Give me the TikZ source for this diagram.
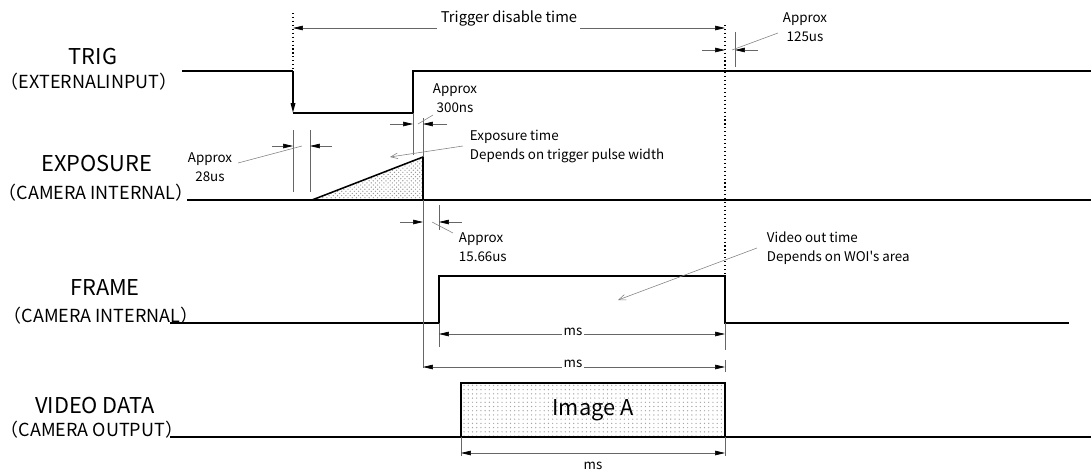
\documentclass[tikz,border=0pt]{standalone}
\usepackage{fontspec}
\newfontfamily\jpfont{Noto Sans CJK JP}
\usetikzlibrary{arrows.meta,patterns}
\begin{document}
\begin{tikzpicture}[x=0.025cm,y=-0.025cm,>={Triangle[length=7pt,width=3.2pt,color=black]},
sig/.style={line width=1.1pt},
dim/.style={gray!80!black,line width=0.4pt},
lead/.style={gray,line width=0.4pt},
lbl/.style={font=\jpfont\fontsize{15.5}{17}\selectfont},
sublbl/.style={font=\jpfont\fontsize{12.8}{15}\selectfont,inner sep=0pt},
note/.style={font=\jpfont\fontsize{9.5}{13.5}\selectfont,align=left}]
\useasboundingbox(0,0)rectangle(1091,474);
% signal names
\node[lbl](trig)at(93,57){TRIG};
\node[sublbl](trigsub)at(89,82){（EXTERNALINPUT）};
\node[lbl](expo)at(97,164){EXPOSURE};
\node[sublbl](exposub)at(96,193){（CAMERA INTERNAL）};
\node[lbl](frame)at(105,288){FRAME};
\node[sublbl](framesub)at(101,316){（CAMERA INTERNAL）};
\node[lbl](video)at(95,406){VIDEO DATA};
\node[sublbl](videosub)at(92,430){（CAMERA OUTPUT）};
% waveforms
\draw[sig](182,71)--(293,71);
\draw[sig,->](293,71)--(293,113);
\draw[sig](293,113)--(413,113)--(413,71)--(1091,71);
\draw[sig](187,200)--(1091,200);
\draw[sig,pattern=crosshatch dots,pattern color=gray!80](312,200)--(423,157)--(423,200)--cycle;
\draw[sig](170,323)--(439,323)--(439,276)--(725,276)--(725,323)--(1069,323);
\draw[sig](170,437)--(1091,437);
\draw[sig,pattern=dots,pattern color=gray!70](461,383)rectangle(725,437);
\node[font=\jpfont\fontsize{15.5}{17}\selectfont](imga)at(593,410){Image A};
% trigger disable time
\draw[thick,dotted](293,13)--(293,71);
\draw[thick,dotted](725,25)--(725,276);
\draw[dim,<-](293,28)--(437,28);
\draw[dim,->](580,28)--(725,28);
\node[font=\jpfont\fontsize{10.5}{12}\selectfont](tdis)at(509,18){Trigger disable time};
% approx 125us
\draw[dim,->](702,50)--(725,50);
\draw[dim,->](758,50)--(735,50);
\draw[dim](735,32)--(735,67);
\node[note,align=center](a125)at(805,27){Approx\\125us};
\draw[lead](732,50)--(778,33);
% approx 300ns
\draw[dim](413,113)--(413,155);
\draw[dim](423,118)--(423,157);
\draw[dim,->](390,124)--(413,124);
\draw[dim,->](447,124)--(423,124);
\node[note,align=center](a300)at(455,98){Approx\\300ns};
\draw[lead](418,124)--(433,115);
% approx 28us
\draw[dim](293,130)--(293,192);
\draw[dim](310,130)--(310,192);
\draw[dim,->](272,146)--(293,146);
\draw[dim,->](332,146)--(310,146);
\node[note,align=center](a28)at(210,167){Approx\\28us};
\draw[lead](238,163)--(302,146);
% exposure time
\node[note,anchor=west](etime)at(465,146){Exposure time\\Depends on trigger pulse width};
\draw[lead,-{Straight Barb[length=5pt,width=4pt]}](463,146)--(390,157);
% approx 15.66us
\draw[dim](423,200)--(423,368);
\draw[dim](439,205)--(439,230);
\draw[dim,->](400,222)--(423,222);
\draw[dim,->](462,222)--(439,222);
\node[note,anchor=west](a1566)at(454,247){Approx\\15.66us};
\draw[lead](432,222)--(453,233);
% video out time
\node[note,anchor=west](vtime)at(762,248){Video out time\\Depends on WOI's area};
\draw[lead,-{Straight Barb[length=5pt,width=4pt]}](757,248)--(618,300);
% durations
\draw[dim](439,323)--(439,347);
\draw[dim](725,323)--(725,350);
\draw[dim,<->](439,334)--(725,334);
\node[note,fill=white,inner sep=1pt](ms1)at(573,332){ms};
\draw[dim](725,360)--(725,372);
\draw[dim,<->](423,367)--(725,367);
\node[note,fill=white,inner sep=1pt](ms2)at(573,364){ms};
\draw[dim](461,437)--(461,456);
\draw[dim](725,437)--(725,456);
\draw[dim,<->](461,453)--(725,453);
\node[note](ms3)at(593,466){ms};
\end{tikzpicture}
\end{document}
